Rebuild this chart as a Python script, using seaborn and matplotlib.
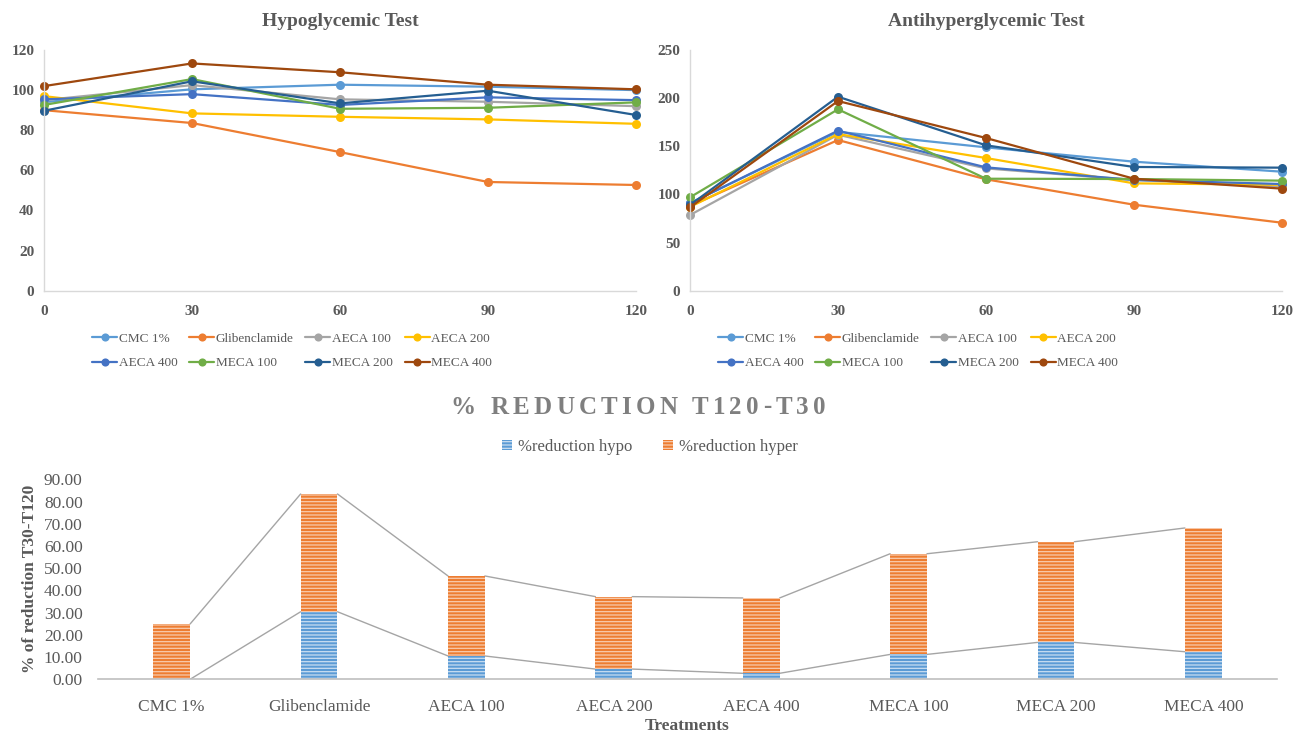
import numpy as np
import pandas as pd
import matplotlib
matplotlib.use('Agg')
from matplotlib import pyplot as plt
from matplotlib.patches import Patch
import seaborn as sns

# ---- data ----
times = [0, 30, 60, 90, 120]
groups = ['CMC 1%', 'Glibenclamide', 'AECA 100', 'AECA 200',
          'AECA 400', 'MECA 100', 'MECA 200', 'MECA 400']

hypo_cmc = [94, 100.4, 102.7, 101.7, 100]
hypo_glib = [90, 83.6, 69.1, 54.2, 52.7]
hypo_aeca100 = [95, 102.5, 95.4, 94.2, 92]
hypo_aeca200 = [97, 88.4, 86.7, 85.4, 83.2]
hypo_aeca400 = [95.4, 98, 92.6, 96.4, 95]
hypo_meca100 = [92.6, 105.5, 90.7, 91.2, 93.9]
hypo_meca200 = [89.7, 104.4, 93.4, 99.7, 87.6]
hypo_meca400 = [102, 113.3, 108.9, 102.7, 100.4]

hyper_cmc = [91, 165, 148.9, 134, 123.6]
hyper_glib = [88, 156.5, 115.7, 89.3, 70.6]
hyper_aeca100 = [78.6, 162, 127, 115, 108]
hyper_aeca200 = [87, 162.7, 137.8, 111.5, 110]
hyper_aeca400 = [90.8, 166.2, 128.1, 115, 110.8]
hyper_meca100 = [97, 188.4, 116.3, 116, 114.3]
hyper_meca200 = [89, 201.5, 151, 128.5, 127.8]
hyper_meca400 = [86.6, 197, 158.6, 116.3, 106]

red_hypo = [0, 30.4, 10.5, 4.6, 2.7, 11.2, 16.6, 12.4]
red_hyper = [24.9, 53.0, 36.0, 32.6, 33.9, 45.3, 45.3, 55.7]

colors = ['#5B9BD5', '#ED7D31', '#A5A5A5', '#FFC000',
          '#4472C4', '#70AD47', '#255E91', '#9E480E']

hypo_series = [hypo_cmc, hypo_glib, hypo_aeca100, hypo_aeca200,
               hypo_aeca400, hypo_meca100, hypo_meca200, hypo_meca400]
hyper_series = [hyper_cmc, hyper_glib, hyper_aeca100, hyper_aeca200,
                hyper_aeca400, hyper_meca100, hyper_meca200, hyper_meca400]


def long_df(series):
    rows = []
    for g, vals in zip(groups, series):
        for t, v in zip(times, vals):
            rows.append((g, t, v))
    return pd.DataFrame(rows, columns=['group', 'time', 'value'])


sns.set_style('white')
plt.rcParams['font.family'] = ['Liberation Serif', 'DejaVu Serif']
plt.rcParams['hatch.linewidth'] = 0.9

W, H = 1301, 734
fig = plt.figure(figsize=(W / 100, H / 100), dpi=100)
pal = dict(zip(groups, colors))
txt = '#595959'

ax1 = fig.add_axes([44 / W, 1 - 290.7 / H, 592 / W, 240.7 / H])
ax2 = fig.add_axes([690 / W, 1 - 290.7 / H, 592 / W, 240.7 / H])

# excel fills the legend row by row, matplotlib column by column
order = [0, 4, 1, 5, 2, 6, 3, 7]

for ax, series, ymax, step, title, lx in [
        (ax1, hypo_series, 120, 20, 'Hypoglycemic Test', 292),
        (ax2, hyper_series, 250, 50, 'Antihyperglycemic Test', 918)]:
    sns.lineplot(data=long_df(series), x='time', y='value', hue='group',
                 palette=pal, marker='o', markersize=6.5, markeredgewidth=0,
                 linewidth=1.6, legend=False, ax=ax)
    for ln in ax.get_lines():
        ln.set_clip_on(False)
    ax.set_xlim(0, 120)
    ax.set_ylim(0, ymax)
    ax.set_xticks(times)
    ax.set_yticks(np.arange(0, ymax + 1, step))
    ax.set_xlabel('')
    ax.set_ylabel('')
    ax.tick_params(length=0, labelsize=11, labelcolor=txt)
    ax.tick_params(axis='x', pad=10)
    ax.tick_params(axis='y', pad=7)
    for lab in ax.get_xticklabels() + ax.get_yticklabels():
        lab.set_fontweight('bold')
    for s in ['top', 'right']:
        ax.spines[s].set_visible(False)
    for s in ['left', 'bottom']:
        ax.spines[s].set_color('#D9D9D9')
        ax.spines[s].set_linewidth(1)
    ax.set_title(title, fontsize=14, fontweight='bold', color=txt, pad=17)
    lines = ax.get_lines()[:len(groups)]
    fig.legend([lines[i] for i in order], [groups[i] for i in order],
               loc='center', bbox_to_anchor=(lx / W, 1 - 351 / H),
               ncol=4, frameon=False, fontsize=9.5, labelcolor=txt,
               handlelength=1.9, handletextpad=0.1, columnspacing=0.9,
               labelspacing=0.9, markerscale=0.9)

# ---- bottom stacked bar chart ----
ax3 = fig.add_axes([98 / W, 1 - 679.3 / H, 1179 / W, 200 / H])
totals = [a + b for a, b in zip(red_hypo, red_hyper)]
orange_c, blue_c = '#ED7D31', '#5B9BD5'
sns.barplot(x=groups, y=totals, color=orange_c, saturation=1, width=0.25,
            hatch='-----', edgecolor='#F8CBAD', linewidth=0, errorbar=None, ax=ax3)
sns.barplot(x=groups, y=red_hypo, color=blue_c, saturation=1, width=0.25,
            hatch='-----', edgecolor='#C9DDF1', linewidth=0, errorbar=None, ax=ax3)

# series lines joining the bar tops
bars = ax3.patches
n = len(groups)
for offs in (0, n):
    for i in range(n - 1):
        a, b = bars[offs + i], bars[offs + i + 1]
        ax3.plot([a.get_x() + a.get_width(), b.get_x()],
                 [a.get_height(), b.get_height()],
                 color='#A5A5A5', linewidth=1, zorder=0.5)

ax3.set_xlim(-0.5, n - 0.5)
ax3.set_ylim(0, 90)
ax3.set_yticks(np.arange(0, 91, 10))
ax3.set_yticklabels([f'{v:.2f}' for v in np.arange(0, 91, 10)])
ax3.tick_params(length=0, labelsize=12.5, labelcolor=txt)
ax3.tick_params(axis='x', pad=14)
ax3.tick_params(axis='y', pad=11)
for s in ['top', 'right', 'left']:
    ax3.spines[s].set_visible(False)
ax3.spines['bottom'].set_color('#BFBFBF')
ax3.spines['bottom'].set_linewidth(1.2)
ax3.set_xlabel('Treatments', fontsize=12.5, fontweight='bold', color=txt, labelpad=2)
ax3.set_ylabel('% of reduction T30-T120', fontsize=12.5, fontweight='bold',
               color=txt, labelpad=4)

leg_handles = [Patch(facecolor=blue_c, edgecolor='#C9DDF1', hatch='-----', linewidth=0),
               Patch(facecolor=orange_c, edgecolor='#F8CBAD', hatch='-----', linewidth=0)]
fig.legend(leg_handles, ['%reduction hypo', '%reduction hyper'], loc='center',
           bbox_to_anchor=(650 / W, 1 - 447 / H), ncol=2, frameon=False,
           fontsize=12, labelcolor=txt, handlelength=0.6, handleheight=0.6,
           handletextpad=0.4, columnspacing=1.8)

# letter-spaced chart title
title = '% REDUCTION T120-T30'
renderer = fig.canvas.get_renderer()
pieces = [fig.text(0, 1 - 407 / H, ch, fontsize=18, fontweight='bold',
                   color='#7F7F7F', va='center') for ch in title]
widths = [p.get_window_extent(renderer).width for p in pieces]
gap = 4.2
total_w = sum(widths) + gap * (len(pieces) - 1)
x = 638 - total_w / 2
for p, w in zip(pieces, widths):
    p.set_x(x / W)
    x += w + gap

fig.savefig('out.png', dpi=100)
